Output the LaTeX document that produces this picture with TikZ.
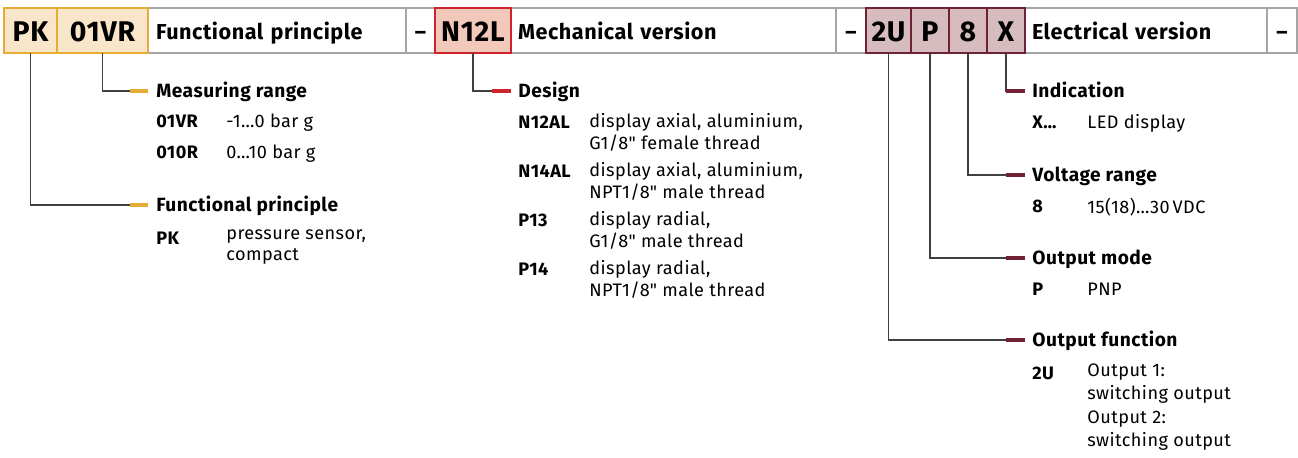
\documentclass[tikz,border=0pt]{standalone}
\usepackage{fontspec}
\setmainfont{Fira Sans}[LetterSpace=2.5, Ligatures=TeXOff]
\usetikzlibrary{positioning}
\definecolor{pkfill}{RGB}{249,230,202}
\definecolor{pkline}{RGB}{232,172,52}
\definecolor{mechfill}{RGB}{242,200,186}
\definecolor{mechline}{RGB}{208,36,44}
\definecolor{elfill}{RGB}{214,188,190}
\definecolor{elline}{RGB}{112,34,52}
\definecolor{cellgray}{RGB}{165,165,165}

\begin{document}
\begin{tikzpicture}[x=0.02cm, y=-0.02cm,
    cell/.style={draw=cellgray, fill=white, line width=0.6pt, inner sep=0pt, outer sep=0pt,
                 minimum height=0.9cm, text height=10.2pt, text depth=0pt,
                 font=\bfseries\fontsize{12.3}{14}\selectfont},
    head/.style={cell, align=left},
    code/.style={cell, line width=0.9pt, text height=12.9pt,
                 font=\bfseries\fontsize{16.2}{19}\selectfont},
    pkbox/.style={code, draw=pkline, fill=pkfill},
    mechbox/.style={code, draw=mechline, fill=mechfill},
    elbox/.style={code, draw=elline, fill=elfill},
    ttl/.style={anchor=west, inner sep=0pt, text height=7.5pt, text depth=0pt,
                font=\bfseries\fontsize{10.9}{12}\selectfont},
    key/.style={anchor=north west, inner sep=0pt, execute at begin node=\strut,
                font=\bfseries\fontsize{10.3}{12.1}\selectfont},
    val/.style={anchor=north west, inner sep=0pt, align=left, execute at begin node=\strut,
                font=\fontsize{10.3}{12.1}\selectfont},
    conn/.style={draw=black!75, line width=0.6pt},
    tick/.style={line width=0.09cm}]
  \useasboundingbox (0,0) rectangle (1298,457);

  % code header
  \node[head, text width=4.84cm, inner xsep=0.16cm] (fp) at (277,30.5) {Functional principle};
  \node[cell, minimum width=0.58cm] (d1) at (420.5,30.5) {–};
  \node[head, text width=6.22cm, inner xsep=0.14cm] (mv) at (673.5,30.5) {Mechanical version};
  \node[cell, minimum width=0.6cm] (d2) at (851,30.5) {–};
  \node[head, text width=4.56cm, inner xsep=0.14cm] (ev) at (1146,30.5) {Electrical version};
  \node[cell, minimum width=0.6cm] (d3) at (1282,30.5) {–};
  \node[pkbox, minimum width=1.06cm] (pk) at (30.5,30.5) {PK};
  \node[pkbox, minimum width=1.82cm] (vr) at (102.5,30.5) {01VR};
  \node[mechbox, minimum width=1.52cm] (n12l) at (473,30.5) {N12L};
  \node[elbox, minimum width=0.9cm] (u2) at (888.5,30.5) {2U};
  \node[elbox, minimum width=0.76cm] (pp) at (930,30.5) {P};
  \node[elbox, minimum width=0.76cm] (v8) at (968,30.5) {8};
  \node[elbox, minimum width=0.76cm] (xx) at (1006,30.5) {X};

  % functional principle and measuring range
  \node[ttl] (mr) at (156,91) {Measuring range};
  \node[key] (k01vr) at (156,112.4) {01VR};
  \node[val] (v01vr) at (226,112.4) {-1…0 bar g};
  \node[key] (k010r) at (156,143.4) {010R};
  \node[val] (v010r) at (226,143.4) {0…10 bar g};
  \node[ttl] (fpt) at (156,205) {Functional principle};
  \node[key] (kpk) at (156,228.9) {PK};
  \node[val] (vpk) at (226,228.9) {pressure sensor,\\compact};

  % mechanical version
  \node[ttl] (des) at (518,91) {Design};
  \node[key] (kn12) at (518,113.5) {N12AL};
  \node[val] (vn12) at (589,113.5) {display axial, aluminium,\\G1/8" female thread};
  \node[key] (kn14) at (518,162.3) {N14AL};
  \node[val] (vn14) at (589,162.3) {display axial, aluminium,\\NPT1/8" male thread};
  \node[key] (kp13) at (518,211.5) {P13};
  \node[val] (vp13) at (589,211.5) {display radial,\\G1/8" male thread};
  \node[key] (kp14) at (518,260.5) {P14};
  \node[val] (vp14) at (589,260.5) {display radial,\\NPT1/8" male thread};

  % electrical version
  \node[ttl] (ind) at (1032,91) {Indication};
  \node[key] (kx) at (1032,113.5) {X…};
  \node[val] (vx) at (1087,113.5) {LED display};
  \node[ttl] (vrg) at (1032,175) {Voltage range};
  \node[key] (k8) at (1032,197.4) {8};
  \node[val] (v8v) at (1087,197.4) {15(18)…30\,VDC};
  \node[ttl] (om) at (1032,258) {Output mode};
  \node[key] (kp) at (1032,280.4) {P};
  \node[val] (vp) at (1087,280.4) {PNP};
  \node[ttl] (of) at (1032,340) {Output function};
  \node[key] (k2u) at (1032,364.4) {2U};
  \node[val, font=\fontsize{10.3}{13.3}\selectfont] (v2u) at (1087,363.4)
       {Output 1:\\switching output\\Output 2:\\switching output};

  % connectors
  \draw[conn] (pk.south) |- ([xshift=-0.52cm]fpt.west);
  \draw[conn] (vr.south) |- ([xshift=-0.52cm]mr.west);
  \draw[conn] (n12l.south) |- ([xshift=-0.52cm]des.west);
  \draw[conn] (u2.south) |- ([xshift=-0.52cm]of.west);
  \draw[conn] (pp.south) |- ([xshift=-0.52cm]om.west);
  \draw[conn] (v8.south) |- ([xshift=-0.52cm]vrg.west);
  \draw[conn] (xx.south) |- ([xshift=-0.52cm]ind.west);
  \draw[tick, pkline] ([xshift=-0.52cm]fpt.west) -- ([xshift=-0.16cm]fpt.west);
  \draw[tick, pkline] ([xshift=-0.52cm]mr.west) -- ([xshift=-0.16cm]mr.west);
  \draw[tick, mechline] ([xshift=-0.52cm]des.west) -- ([xshift=-0.15cm]des.west);
  \draw[tick, elline] ([xshift=-0.52cm]of.west) -- ([xshift=-0.15cm]of.west);
  \draw[tick, elline] ([xshift=-0.52cm]om.west) -- ([xshift=-0.15cm]om.west);
  \draw[tick, elline] ([xshift=-0.52cm]vrg.west) -- ([xshift=-0.15cm]vrg.west);
  \draw[tick, elline] ([xshift=-0.52cm]ind.west) -- ([xshift=-0.15cm]ind.west);
\end{tikzpicture}
\end{document}
